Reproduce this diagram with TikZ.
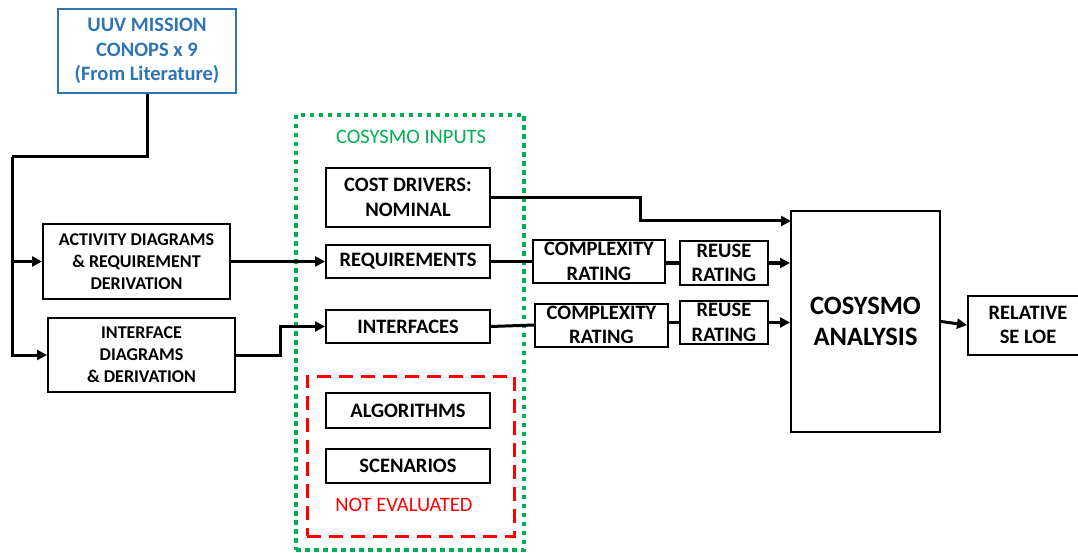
\documentclass[tikz,border=0pt]{standalone}
\usepackage{fontspec}
\setmainfont{Carlito}
\usetikzlibrary{arrows.meta}

\definecolor{uuvblue}{HTML}{2E75B6}
\definecolor{inpgreen}{HTML}{00B050}
\definecolor{evalred}{HTML}{FF0000}

\begin{document}
\begin{tikzpicture}[x=1pt, y=-1pt, font=\fontsize{20.5}{24.5}\selectfont\bfseries]
\useasboundingbox (0,0) rectangle (1078,553);

% group frames
\node (inputs) at (410,332.5) [draw=inpgreen, line width=4.5pt, dash pattern=on 4.5pt off 4.5pt, minimum width=228pt, minimum height=435pt] {};
\node (noteval) at (410.5,456) [draw=evalred, line width=3pt, dash pattern=on 14pt off 8pt, minimum width=207pt, minimum height=160pt] {};
\node (inputslbl) at (411,137) [text=inpgreen, font=\fontsize{20.5}{24.5}\selectfont] {COSYSMO INPUTS};
\node (notevallbl) at (404,505) [text=evalred, font=\fontsize{20.5}{24.5}\selectfont] {NOT EVALUATED};

\begin{scope}[every node/.style={draw, rectangle, line width=2pt, align=center, inner sep=0pt}]
\node (uuv) at (147,51) [draw=uuvblue, text=uuvblue, minimum width=178pt, minimum height=84pt] {UUV MISSION\\CONOPS x 9\\(From Literature)};
\node (act) at (136.5,261.5) [minimum width=187pt, minimum height=75pt, font=\fontsize{18}{22}\selectfont\bfseries] {ACTIVITY DIAGRAMS\\\& REQUIREMENT\\DERIVATION};
\node (intf) at (141.5,355) [minimum width=187pt, minimum height=74pt, font=\fontsize{18}{22}\selectfont\bfseries] {INTERFACE\\DIAGRAMS\\\& DERIVATION};
\node (cost) at (408,197.5) [minimum width=164pt, minimum height=59pt] {COST DRIVERS:\\NOMINAL};
\node (req) at (408,261.5) [minimum width=164pt, minimum height=33pt] {REQUIREMENTS};
\node (ifc) at (408,326.5) [minimum width=164pt, minimum height=33pt] {INTERFACES};
\node (alg) at (408,410.5) [minimum width=164pt, minimum height=35pt] {ALGORITHMS};
\node (scen) at (408,466) [minimum width=164pt, minimum height=34pt] {SCENARIOS};
\node (cx1) at (599,261.5) [minimum width=132pt, minimum height=42pt] {COMPLEXITY\\RATING};
\node (ru1) at (724,263) [minimum width=88pt, minimum height=44pt] {REUSE\\RATING};
\node (cx2) at (601.5,325) [minimum width=133pt, minimum height=43pt] {COMPLEXITY\\RATING};
\node (ru2) at (724,322.5) [minimum width=88pt, minimum height=43pt] {REUSE\\RATING};
\node (cos) at (865.5,321.5) [minimum width=149pt, minimum height=221pt, font=\fontsize{26.5}{31}\selectfont\bfseries] {COSYSMO\\ANALYSIS};
\node (rel) at (1028,325) [minimum width=120pt, minimum height=59pt] {RELATIVE\\SE LOE};
\end{scope}

\coordinate (split) at (12,157);
\coordinate (ifbend) at (280,355);
\coordinate (costbend) at (640,197.5);
\coordinate (costin) at (791,221);

\begin{scope}[line width=3pt, -{Triangle[length=10pt, width=10pt]}]
\draw[-] (uuv.south) |- (split);
\draw (split) |- (act.west);
\draw (split) |- (intf.west);
\draw (act.east) -- (req.west);
\draw (intf.east) -- (ifbend) |- (ifc.west);
\draw (cost.east) -- (costbend) |- (costin);
\draw[-] (req.east) -- (req.east -| cx1.west);
\draw[-] (cx1.east |- ru1.west) -- (ru1.west);
\draw (ru1.east) -- (ru1.east -| cos.west);
\draw[-] (ifc.east) -- (cx2.west);
\draw[-] (cx2.east |- ru2.west) -- (ru2.west);
\draw (ru2.east) -- (ru2.east -| cos.west);
\draw (cos.east) -- (rel.west);
\end{scope}

\end{tikzpicture}
\end{document}
